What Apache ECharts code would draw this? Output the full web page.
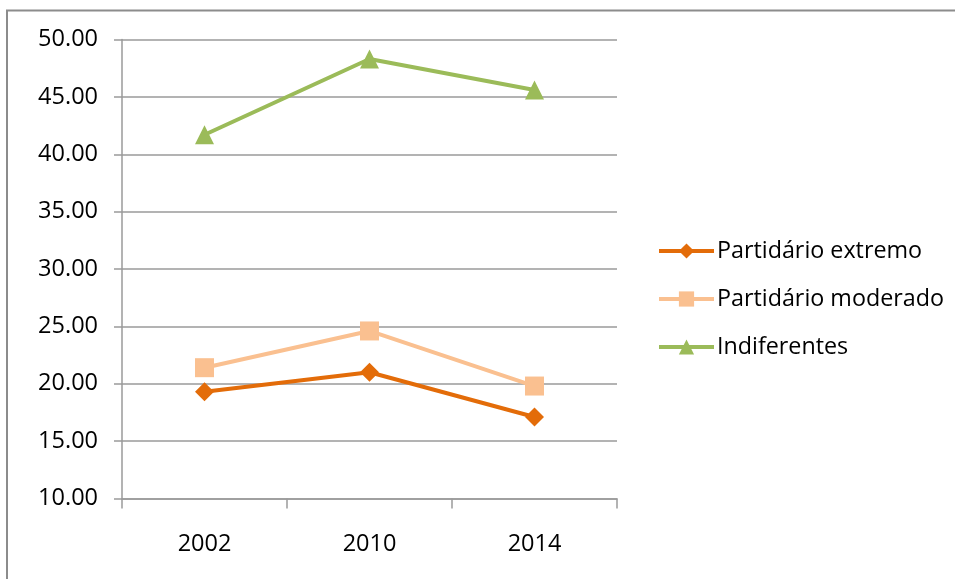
<!DOCTYPE html>
<html>
<head>
<meta charset="utf-8">
<script src="https://cdn.jsdelivr.net/npm/echarts@6/dist/echarts.min.js"></script>
<style>
  html, body { margin: 0; padding: 0; background: #fff; }
  #chart { width: 955px; height: 579px; }
</style>
</head>
<body>
<div id="chart"></div>
<script>
// Survey years on the category axis
const years = ['2002', '2010', '2014'];

// Share of respondents per group (%)
const extremo = [19.3, 21.0, 17.1];
const moderado = [21.4, 24.6, 19.8];
const indiferentes = [41.7, 48.3, 45.6];

const seriesNames = ['Partidário extremo', 'Partidário moderado', 'Indiferentes'];

const FONT = '"Open Sans", "Liberation Sans", sans-serif';
const GRID_COLOR = '#9a9a9a';

const chart = echarts.init(document.getElementById('chart'), null, { renderer: 'canvas' });

function lineSeries(name, values, color, symbol, size) {
  return {
    name: name,
    type: 'line',
    data: values,
    symbol: symbol,
    symbolSize: size,
    showAllSymbol: true,
    lineStyle: { color: color, width: 4 },
    itemStyle: { color: color, borderWidth: 0 },
    emphasis: { disabled: true },
    z: 3
  };
}

chart.setOption({
  animation: false,
  backgroundColor: '#ffffff',
  textStyle: { fontFamily: FONT },
  graphic: [{
    type: 'rect',
    shape: { x: 7, y: 10.5, width: 1200, height: 1200 },
    style: { fill: 'none', stroke: '#8c8c8c', lineWidth: 2 },
    silent: true
  }],
  grid: { left: 122, top: 39.5, right: 338, bottom: 80.5, containLabel: false },
  xAxis: {
    type: 'category',
    data: years,
    boundaryGap: true,
    axisLine: { show: true, lineStyle: { color: GRID_COLOR, width: 1.5 } },
    axisTick: { show: true, length: 10, alignWithLabel: false, lineStyle: { color: GRID_COLOR, width: 1.5 } },
    axisLabel: { color: '#000', fontSize: 23.5, fontFamily: FONT, margin: 34 },
    splitLine: { show: false }
  },
  yAxis: {
    type: 'value',
    min: 10,
    max: 50,
    interval: 5,
    axisLine: { show: true, lineStyle: { color: GRID_COLOR, width: 1.5 } },
    axisTick: { show: true, length: 8, lineStyle: { color: GRID_COLOR, width: 1.5 } },
    axisLabel: {
      color: '#000', fontSize: 23.5, fontFamily: FONT, margin: 24,
      formatter: v => v.toFixed(2)
    },
    splitLine: { show: true, lineStyle: { color: GRID_COLOR, width: 1.5 } }
  },
  legend: {
    orient: 'vertical',
    left: 657,
    top: 239,
    padding: 0,
    itemWidth: 55,
    itemHeight: 19,
    itemGap: 24,
    data: seriesNames,
    lineStyle: { width: 4 },
    textStyle: { color: '#000', fontSize: 23.3, fontFamily: FONT, lineHeight: 24, padding: [0, 0, 0, -2] },
    selectedMode: false
  },
  series: [
    lineSeries(seriesNames[0], extremo, '#e36c09', 'diamond', 19),
    lineSeries(seriesNames[1], moderado, '#fac090', 'rect', 19),
    lineSeries(seriesNames[2], indiferentes, '#9bbb59', 'triangle', 19)
  ]
});
</script>
</body>
</html>
